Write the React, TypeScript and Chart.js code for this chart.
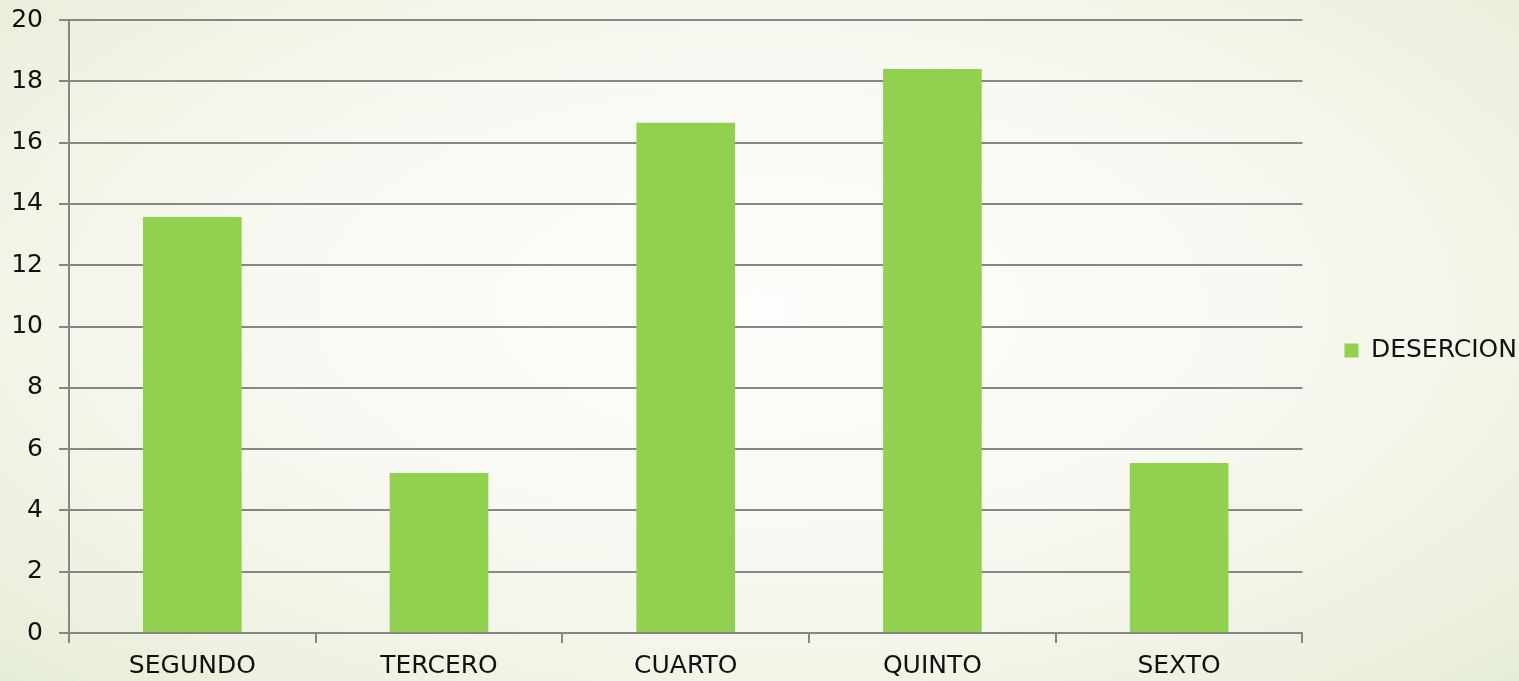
import React, { useEffect, useRef } from "react";
import { Chart, registerables } from "chart.js";

Chart.register(...registerables);

const categories = ["SEGUNDO", "TERCERO", "CUARTO", "QUINTO", "SEXTO"];
const seriesName = "DESERCION";
const desercion = [13.57, 5.22, 16.65, 18.4, 5.55];
const yTicks = [0, 2, 4, 6, 8, 10, 12, 14, 16, 18, 20];

export default function App() {
  const ref = useRef<HTMLCanvasElement | null>(null);

  useEffect(() => {
    const canvas = ref.current;
    if (!canvas) return;
    const font = { family: "'DejaVu Sans', sans-serif", size: 25 };
    const grid = "#868686";
    const chart = new Chart(canvas, {
      type: "bar",
      data: {
        labels: categories,
        datasets: [
          {
            label: seriesName,
            data: desercion,
            backgroundColor: "#92d050",
            borderWidth: 0,
            barPercentage: 0.4,
            categoryPercentage: 1,
          },
        ],
      },
      options: {
        responsive: false,
        animation: false,
        devicePixelRatio: 1,
        layout: { padding: { top: 20, left: 0, bottom: 0, right: -8 } },
        plugins: {
          tooltip: { enabled: false },
          legend: {
            position: "right",
            labels: {
              font,
              color: "#111",
              boxWidth: 14,
              boxHeight: 14,
              padding: 42,
            },
          },
        },
        scales: {
          x: {
            grid: {
              offset: true,
              drawOnChartArea: false,
              drawTicks: true,
              tickLength: 10,
              color: grid,
              lineWidth: 2,
            },
            border: { color: grid, width: 2 },
            ticks: { font, color: "#111", padding: 8, maxRotation: 0 },
            afterFit: (s: any) => {
              s.height = 48;
            },
          },
          y: {
            min: 0,
            max: 20,
            afterBuildTicks: (s: any) => {
              s.ticks = yTicks.map((v) => ({ value: v }));
            },
            grid: { color: grid, lineWidth: 2, tickLength: 10 },
            border: { color: grid, width: 2 },
            ticks: { font, color: "#111", padding: 16 },
            afterFit: (s: any) => {
              s.width = 69;
              s.paddingTop = 0;
              s.paddingBottom = 0;
            },
          },
        },
      },
    });
    return () => chart.destroy();
  }, []);

  return (
    <div
      style={{
        position: "fixed",
        left: 0,
        top: 0,
        width: 1519,
        height: 681,
        background:
          "radial-gradient(ellipse at 50% 45%, #fdfdfb 0%, #f8f9f2 45%, #eef2e2 80%, #e6edd5 100%)",
      }}
    >
      <canvas ref={ref} width={1519} height={681} style={{ display: "block" }} />
    </div>
  );
}
